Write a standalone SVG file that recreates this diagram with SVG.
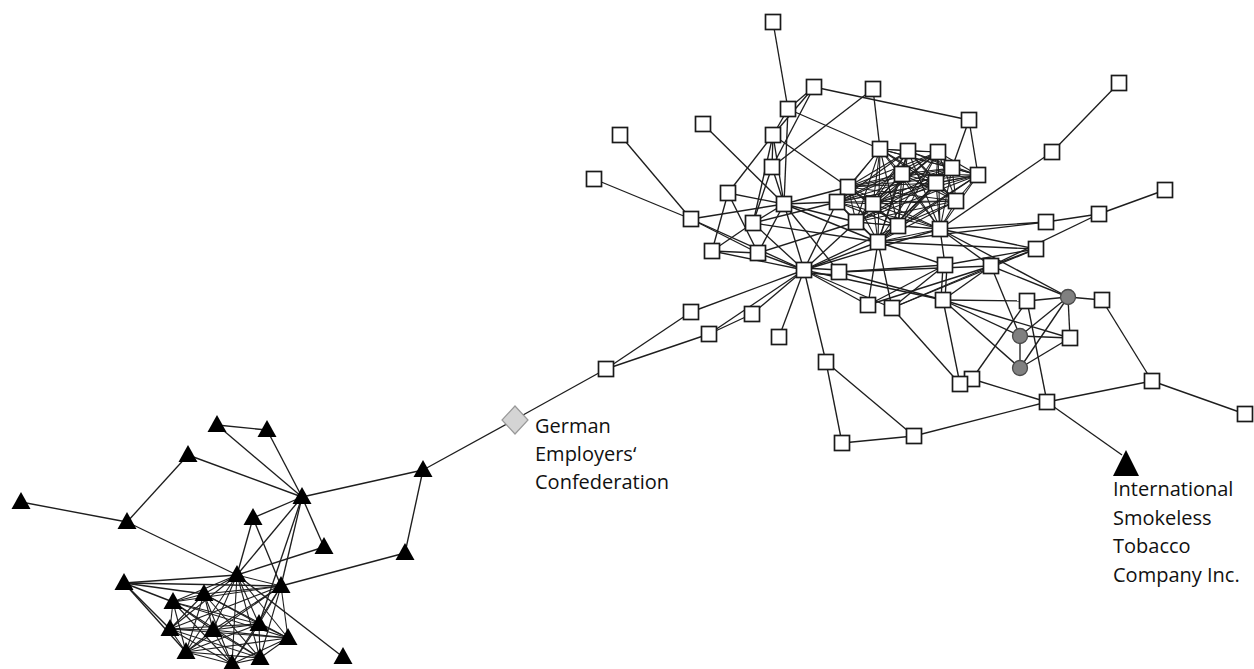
<svg xmlns="http://www.w3.org/2000/svg" xmlns:xlink="http://www.w3.org/1999/xlink" width="1254" height="669" viewBox="0 0 1254 669">
<style>
.e line{stroke:#1e1e1e;stroke-width:1.35;fill:none}
.c line{stroke:#1e1e1e;stroke-width:1.1}
.sq{fill:#fff;stroke:#1a1a1a;stroke-width:1.7}
.ci{fill:#808080;stroke:#4a4a4a;stroke-width:1.3}
.tr{fill:#000}
.lb{font-family:"Open Sans","Noto Sans",sans-serif;font-size:20px;fill:#111}
</style>
<defs>
<rect id="sq" class="sq" x="-7.5" y="-7.5" width="15" height="15"/>
<polygon id="tr" class="tr" points="0,-10 9.5,7 -9.5,7"/>
<circle id="ci" class="ci" r="7.5"/>
</defs>
<rect width="1254" height="669" fill="#fff"/>
<g id="connectors">
<g class="e">
<line x1="773" y1="22" x2="788" y2="109"/>
<line x1="814" y1="87" x2="788" y2="109"/>
<line x1="814" y1="87" x2="773" y2="135"/>
<line x1="814" y1="87" x2="772" y2="167"/>
<line x1="814" y1="87" x2="969" y2="120"/>
<line x1="873" y1="89" x2="880" y2="149"/>
<line x1="873" y1="89" x2="772" y2="167"/>
<line x1="788" y1="109" x2="880" y2="149"/>
<line x1="788" y1="109" x2="784" y2="204"/>
<line x1="788" y1="109" x2="773" y2="135"/>
<line x1="969" y1="120" x2="952" y2="168"/>
<line x1="969" y1="120" x2="978" y2="175"/>
<line x1="1119" y1="83" x2="1052" y2="152"/>
<line x1="1052" y1="152" x2="940" y2="229"/>
<line x1="1165" y1="190" x2="1099" y2="214"/>
<line x1="1099" y1="214" x2="1046" y2="222"/>
<line x1="1099" y1="214" x2="991" y2="266"/>
<line x1="620" y1="135" x2="691" y2="219"/>
<line x1="594" y1="179" x2="691" y2="219"/>
<line x1="703" y1="124" x2="784" y2="204"/>
<line x1="773" y1="135" x2="728" y2="193"/>
<line x1="773" y1="135" x2="772" y2="167"/>
<line x1="773" y1="135" x2="784" y2="204"/>
<line x1="773" y1="135" x2="753" y2="223"/>
<line x1="773" y1="135" x2="848" y2="187"/>
<line x1="772" y1="167" x2="784" y2="204"/>
<line x1="772" y1="167" x2="753" y2="223"/>
<line x1="691" y1="219" x2="784" y2="204"/>
<line x1="691" y1="219" x2="758" y2="253"/>
<line x1="691" y1="219" x2="804" y2="270"/>
<line x1="728" y1="193" x2="784" y2="204"/>
<line x1="728" y1="193" x2="712" y2="251"/>
<line x1="728" y1="193" x2="758" y2="253"/>
<line x1="753" y1="223" x2="784" y2="204"/>
<line x1="753" y1="223" x2="712" y2="251"/>
<line x1="753" y1="223" x2="804" y2="270"/>
<line x1="753" y1="223" x2="878" y2="242"/>
<line x1="753" y1="223" x2="837" y2="202"/>
<line x1="712" y1="251" x2="758" y2="253"/>
<line x1="712" y1="251" x2="804" y2="270"/>
<line x1="758" y1="253" x2="784" y2="204"/>
<line x1="758" y1="253" x2="804" y2="270"/>
<line x1="758" y1="253" x2="856" y2="222"/>
<line x1="784" y1="204" x2="804" y2="270"/>
<line x1="784" y1="204" x2="837" y2="202"/>
<line x1="784" y1="204" x2="856" y2="222"/>
<line x1="784" y1="204" x2="878" y2="242"/>
<line x1="784" y1="204" x2="839" y2="272"/>
<line x1="784" y1="204" x2="848" y2="187"/>
<line x1="804" y1="270" x2="837" y2="202"/>
<line x1="804" y1="270" x2="856" y2="222"/>
<line x1="804" y1="270" x2="878" y2="242"/>
<line x1="804" y1="270" x2="898" y2="226"/>
<line x1="804" y1="270" x2="940" y2="229"/>
<line x1="804" y1="268" x2="839" y2="270"/>
<line x1="804" y1="273" x2="839" y2="275"/>
<line x1="804" y1="270" x2="868" y2="305"/>
<line x1="804" y1="270" x2="892" y2="308"/>
<line x1="804" y1="270" x2="943" y2="300"/>
<line x1="804" y1="270" x2="826" y2="362"/>
<line x1="804" y1="270" x2="779" y2="337"/>
<line x1="804" y1="270" x2="691" y2="312"/>
<line x1="804" y1="270" x2="752" y2="314"/>
<line x1="804" y1="270" x2="709" y2="334"/>
<line x1="839" y1="272" x2="945" y2="265"/>
<line x1="839" y1="272" x2="943" y2="300"/>
<line x1="839" y1="272" x2="991" y2="266"/>
<line x1="878" y1="242" x2="868" y2="305"/>
<line x1="878" y1="242" x2="892" y2="308"/>
<line x1="878" y1="242" x2="1046" y2="222"/>
<line x1="878" y1="242" x2="1036" y2="249"/>
<line x1="878" y1="242" x2="945" y2="265"/>
<line x1="940" y1="229" x2="1046" y2="222"/>
<line x1="940" y1="229" x2="1036" y2="249"/>
<line x1="940" y1="229" x2="945" y2="265"/>
<line x1="940" y1="229" x2="991" y2="266"/>
<line x1="940" y1="229" x2="1068" y2="297"/>
<line x1="945" y1="265" x2="1036" y2="249"/>
<line x1="991" y1="266" x2="1036" y2="249"/>
<line x1="991" y1="266" x2="1068" y2="297"/>
<line x1="1068" y1="297" x2="1102" y2="300"/>
<line x1="943" y1="265" x2="941" y2="300"/>
<line x1="947" y1="265" x2="945" y2="300"/>
<line x1="945" y1="265" x2="868" y2="305"/>
<line x1="991" y1="266" x2="892" y2="308"/>
<line x1="991" y1="266" x2="943" y2="300"/>
<line x1="991" y1="266" x2="1020" y2="336"/>
<line x1="991" y1="266" x2="868" y2="305"/>
<line x1="892" y1="308" x2="945" y2="265"/>
<line x1="892" y1="308" x2="1036" y2="249"/>
<line x1="943" y1="300" x2="1027" y2="301"/>
<line x1="943" y1="300" x2="1020" y2="336"/>
<line x1="943" y1="300" x2="1070" y2="338"/>
<line x1="943" y1="300" x2="1020" y2="368"/>
<line x1="943" y1="300" x2="960" y2="384"/>
<line x1="892" y1="308" x2="960" y2="384"/>
<line x1="1027" y1="301" x2="1068" y2="297"/>
<line x1="1027" y1="301" x2="972" y2="379"/>
<line x1="1027" y1="301" x2="1047" y2="402"/>
<line x1="1068" y1="297" x2="1020" y2="336"/>
<line x1="1068" y1="297" x2="1020" y2="368"/>
<line x1="1068" y1="297" x2="1070" y2="338"/>
<line x1="1020" y1="336" x2="1020" y2="368"/>
<line x1="1020" y1="336" x2="1070" y2="338"/>
<line x1="1020" y1="368" x2="1070" y2="338"/>
<line x1="972" y1="379" x2="1047" y2="402"/>
<line x1="1047" y1="402" x2="1152" y2="381"/>
<line x1="1047" y1="402" x2="914" y2="436"/>
<line x1="826" y1="362" x2="842" y2="443"/>
<line x1="826" y1="362" x2="914" y2="436"/>
<line x1="842" y1="443" x2="914" y2="436"/>
<line x1="1047" y1="402" x2="1122" y2="455"/>
<line x1="1102" y1="300" x2="1152" y2="381"/>
<line x1="1152" y1="381" x2="1245" y2="414"/>
<line x1="606" y1="369" x2="514" y2="420"/>
<line x1="606" y1="369" x2="691" y2="312"/>
<line x1="606" y1="369" x2="709" y2="334"/>
<line x1="709" y1="334" x2="752" y2="314"/>
<line x1="514" y1="420" x2="423" y2="470"/>
</g>
<g class="c">
<line x1="880" y1="149" x2="908" y2="151"/><line x1="880" y1="149" x2="938" y2="152"/><line x1="880" y1="149" x2="952" y2="168"/><line x1="880" y1="149" x2="978" y2="175"/><line x1="880" y1="149" x2="902" y2="174"/><line x1="880" y1="149" x2="936" y2="183"/><line x1="880" y1="149" x2="848" y2="187"/><line x1="880" y1="149" x2="837" y2="202"/><line x1="880" y1="149" x2="873" y2="204"/><line x1="880" y1="149" x2="956" y2="201"/><line x1="880" y1="149" x2="856" y2="222"/><line x1="880" y1="149" x2="898" y2="226"/><line x1="880" y1="149" x2="940" y2="229"/><line x1="880" y1="149" x2="878" y2="242"/>
<line x1="908" y1="151" x2="938" y2="152"/><line x1="908" y1="151" x2="952" y2="168"/><line x1="908" y1="151" x2="978" y2="175"/><line x1="908" y1="151" x2="902" y2="174"/><line x1="908" y1="151" x2="936" y2="183"/><line x1="908" y1="151" x2="848" y2="187"/><line x1="908" y1="151" x2="837" y2="202"/><line x1="908" y1="151" x2="873" y2="204"/><line x1="908" y1="151" x2="956" y2="201"/><line x1="908" y1="151" x2="856" y2="222"/><line x1="908" y1="151" x2="898" y2="226"/><line x1="908" y1="151" x2="940" y2="229"/><line x1="908" y1="151" x2="878" y2="242"/>
<line x1="938" y1="152" x2="952" y2="168"/><line x1="938" y1="152" x2="978" y2="175"/><line x1="938" y1="152" x2="902" y2="174"/><line x1="938" y1="152" x2="936" y2="183"/><line x1="938" y1="152" x2="848" y2="187"/><line x1="938" y1="152" x2="837" y2="202"/><line x1="938" y1="152" x2="873" y2="204"/><line x1="938" y1="152" x2="956" y2="201"/><line x1="938" y1="152" x2="856" y2="222"/><line x1="938" y1="152" x2="898" y2="226"/><line x1="938" y1="152" x2="940" y2="229"/><line x1="938" y1="152" x2="878" y2="242"/>
<line x1="952" y1="168" x2="978" y2="175"/><line x1="952" y1="168" x2="902" y2="174"/><line x1="952" y1="168" x2="936" y2="183"/><line x1="952" y1="168" x2="848" y2="187"/><line x1="952" y1="168" x2="837" y2="202"/><line x1="952" y1="168" x2="873" y2="204"/><line x1="952" y1="168" x2="956" y2="201"/><line x1="952" y1="168" x2="856" y2="222"/><line x1="952" y1="168" x2="898" y2="226"/><line x1="952" y1="168" x2="940" y2="229"/><line x1="952" y1="168" x2="878" y2="242"/>
<line x1="978" y1="175" x2="902" y2="174"/><line x1="978" y1="175" x2="936" y2="183"/><line x1="978" y1="175" x2="848" y2="187"/><line x1="978" y1="175" x2="837" y2="202"/><line x1="978" y1="175" x2="873" y2="204"/><line x1="978" y1="175" x2="956" y2="201"/><line x1="978" y1="175" x2="856" y2="222"/><line x1="978" y1="175" x2="898" y2="226"/><line x1="978" y1="175" x2="940" y2="229"/><line x1="978" y1="175" x2="878" y2="242"/>
<line x1="902" y1="174" x2="936" y2="183"/><line x1="902" y1="174" x2="848" y2="187"/><line x1="902" y1="174" x2="837" y2="202"/><line x1="902" y1="174" x2="873" y2="204"/><line x1="902" y1="174" x2="956" y2="201"/><line x1="902" y1="174" x2="856" y2="222"/><line x1="902" y1="174" x2="898" y2="226"/><line x1="902" y1="174" x2="940" y2="229"/><line x1="902" y1="174" x2="878" y2="242"/>
<line x1="936" y1="183" x2="848" y2="187"/><line x1="936" y1="183" x2="837" y2="202"/><line x1="936" y1="183" x2="873" y2="204"/><line x1="936" y1="183" x2="956" y2="201"/><line x1="936" y1="183" x2="856" y2="222"/><line x1="936" y1="183" x2="898" y2="226"/><line x1="936" y1="183" x2="940" y2="229"/><line x1="936" y1="183" x2="878" y2="242"/>
<line x1="848" y1="187" x2="837" y2="202"/><line x1="848" y1="187" x2="873" y2="204"/><line x1="848" y1="187" x2="956" y2="201"/><line x1="848" y1="187" x2="856" y2="222"/><line x1="848" y1="187" x2="898" y2="226"/><line x1="848" y1="187" x2="940" y2="229"/><line x1="848" y1="187" x2="878" y2="242"/>
<line x1="837" y1="202" x2="873" y2="204"/><line x1="837" y1="202" x2="956" y2="201"/><line x1="837" y1="202" x2="856" y2="222"/><line x1="837" y1="202" x2="898" y2="226"/><line x1="837" y1="202" x2="940" y2="229"/><line x1="837" y1="202" x2="878" y2="242"/>
<line x1="873" y1="204" x2="956" y2="201"/><line x1="873" y1="204" x2="856" y2="222"/><line x1="873" y1="204" x2="898" y2="226"/><line x1="873" y1="204" x2="940" y2="229"/><line x1="873" y1="204" x2="878" y2="242"/>
<line x1="956" y1="201" x2="856" y2="222"/><line x1="956" y1="201" x2="898" y2="226"/><line x1="956" y1="201" x2="940" y2="229"/><line x1="956" y1="201" x2="878" y2="242"/>
<line x1="856" y1="222" x2="898" y2="226"/><line x1="856" y1="222" x2="940" y2="229"/><line x1="856" y1="222" x2="878" y2="242"/>
<line x1="898" y1="226" x2="940" y2="229"/><line x1="898" y1="226" x2="878" y2="242"/><line x1="940" y1="229" x2="878" y2="242"/>
</g>
<g class="e">
<line x1="217" y1="425" x2="267" y2="430"/>
<line x1="217" y1="425" x2="302" y2="497"/>
<line x1="267" y1="430" x2="302" y2="497"/>
<line x1="188" y1="455" x2="302" y2="497"/>
<line x1="188" y1="455" x2="127" y2="522"/>
<line x1="21" y1="502" x2="127" y2="522"/>
<line x1="127" y1="522" x2="237" y2="575"/>
<line x1="302" y1="497" x2="423" y2="470"/>
<line x1="302" y1="497" x2="253" y2="518"/>
<line x1="302" y1="497" x2="324" y2="547"/>
<line x1="302" y1="497" x2="237" y2="575"/>
<line x1="302" y1="497" x2="281" y2="586"/>
<line x1="302" y1="497" x2="259" y2="624"/>
<line x1="423" y1="470" x2="405" y2="553"/>
<line x1="405" y1="553" x2="281" y2="586"/>
<line x1="253" y1="518" x2="237" y2="575"/>
<line x1="253" y1="518" x2="281" y2="586"/>
<line x1="324" y1="547" x2="237" y2="575"/>
<line x1="237" y1="575" x2="343" y2="657"/>
<line x1="124" y1="583" x2="237" y2="575"/>
<line x1="124" y1="583" x2="281" y2="586"/>
<line x1="124" y1="583" x2="204" y2="594"/>
<line x1="124" y1="583" x2="173" y2="602"/>
<line x1="124" y1="583" x2="170" y2="629"/>
<line x1="124" y1="583" x2="186" y2="652"/>
</g>
<g class="c">
<line x1="237" y1="575" x2="281" y2="586"/><line x1="237" y1="575" x2="204" y2="594"/><line x1="237" y1="575" x2="173" y2="602"/><line x1="237" y1="575" x2="170" y2="629"/><line x1="237" y1="575" x2="213" y2="630"/><line x1="237" y1="575" x2="259" y2="624"/><line x1="237" y1="575" x2="288" y2="638"/><line x1="237" y1="575" x2="186" y2="652"/><line x1="237" y1="575" x2="260" y2="658"/><line x1="237" y1="575" x2="232" y2="664"/>
<line x1="281" y1="586" x2="204" y2="594"/><line x1="281" y1="586" x2="173" y2="602"/><line x1="281" y1="586" x2="170" y2="629"/><line x1="281" y1="586" x2="213" y2="630"/><line x1="281" y1="586" x2="259" y2="624"/><line x1="281" y1="586" x2="288" y2="638"/><line x1="281" y1="586" x2="186" y2="652"/><line x1="281" y1="586" x2="260" y2="658"/><line x1="281" y1="586" x2="232" y2="664"/>
<line x1="204" y1="594" x2="173" y2="602"/><line x1="204" y1="594" x2="170" y2="629"/><line x1="204" y1="594" x2="213" y2="630"/><line x1="204" y1="594" x2="259" y2="624"/><line x1="204" y1="594" x2="288" y2="638"/><line x1="204" y1="594" x2="186" y2="652"/><line x1="204" y1="594" x2="260" y2="658"/><line x1="204" y1="594" x2="232" y2="664"/>
<line x1="173" y1="602" x2="170" y2="629"/><line x1="173" y1="602" x2="213" y2="630"/><line x1="173" y1="602" x2="259" y2="624"/><line x1="173" y1="602" x2="288" y2="638"/><line x1="173" y1="602" x2="186" y2="652"/><line x1="173" y1="602" x2="260" y2="658"/><line x1="173" y1="602" x2="232" y2="664"/>
<line x1="170" y1="629" x2="213" y2="630"/><line x1="170" y1="629" x2="259" y2="624"/><line x1="170" y1="629" x2="288" y2="638"/><line x1="170" y1="629" x2="186" y2="652"/><line x1="170" y1="629" x2="260" y2="658"/><line x1="170" y1="629" x2="232" y2="664"/>
<line x1="213" y1="630" x2="259" y2="624"/><line x1="213" y1="630" x2="288" y2="638"/><line x1="213" y1="630" x2="186" y2="652"/><line x1="213" y1="630" x2="260" y2="658"/><line x1="213" y1="630" x2="232" y2="664"/>
<line x1="259" y1="624" x2="288" y2="638"/><line x1="259" y1="624" x2="186" y2="652"/><line x1="259" y1="624" x2="260" y2="658"/><line x1="259" y1="624" x2="232" y2="664"/>
<line x1="288" y1="638" x2="186" y2="652"/><line x1="288" y1="638" x2="260" y2="658"/><line x1="288" y1="638" x2="232" y2="664"/>
<line x1="186" y1="652" x2="260" y2="658"/><line x1="186" y1="652" x2="232" y2="664"/><line x1="260" y1="658" x2="232" y2="664"/>
</g>
</g>
<g id="nodes">
<g id="s1"><use xlink:href="#sq" x="773" y="22"/></g>
<g id="s2"><use xlink:href="#sq" x="814" y="87"/></g>
<g id="s3"><use xlink:href="#sq" x="873" y="89"/></g>
<g id="s4"><use xlink:href="#sq" x="788" y="109"/></g>
<g id="s5"><use xlink:href="#sq" x="969" y="120"/></g>
<g id="s6"><use xlink:href="#sq" x="1119" y="83"/></g>
<g id="s7"><use xlink:href="#sq" x="620" y="135"/></g>
<g id="s8"><use xlink:href="#sq" x="703" y="124"/></g>
<g id="s9"><use xlink:href="#sq" x="773" y="135"/></g>
<g id="s10"><use xlink:href="#sq" x="594" y="179"/></g>
<g id="s11"><use xlink:href="#sq" x="772" y="167"/></g>
<g id="s12"><use xlink:href="#sq" x="880" y="149"/></g>
<g id="s13"><use xlink:href="#sq" x="908" y="151"/></g>
<g id="s14"><use xlink:href="#sq" x="938" y="152"/></g>
<g id="s15"><use xlink:href="#sq" x="952" y="168"/></g>
<g id="s16"><use xlink:href="#sq" x="978" y="175"/></g>
<g id="s17"><use xlink:href="#sq" x="902" y="174"/></g>
<g id="s18"><use xlink:href="#sq" x="936" y="183"/></g>
<g id="s19"><use xlink:href="#sq" x="848" y="187"/></g>
<g id="s20"><use xlink:href="#sq" x="1052" y="152"/></g>
<g id="s21"><use xlink:href="#sq" x="1165" y="190"/></g>
<g id="s22"><use xlink:href="#sq" x="691" y="219"/></g>
<g id="s23"><use xlink:href="#sq" x="728" y="193"/></g>
<g id="s24"><use xlink:href="#sq" x="784" y="204"/></g>
<g id="s25"><use xlink:href="#sq" x="837" y="202"/></g>
<g id="s26"><use xlink:href="#sq" x="873" y="204"/></g>
<g id="s27"><use xlink:href="#sq" x="956" y="201"/></g>
<g id="s28"><use xlink:href="#sq" x="856" y="222"/></g>
<g id="s29"><use xlink:href="#sq" x="898" y="226"/></g>
<g id="s30"><use xlink:href="#sq" x="940" y="229"/></g>
<g id="s31"><use xlink:href="#sq" x="878" y="242"/></g>
<g id="s32"><use xlink:href="#sq" x="753" y="223"/></g>
<g id="s33"><use xlink:href="#sq" x="712" y="251"/></g>
<g id="s34"><use xlink:href="#sq" x="758" y="253"/></g>
<g id="s35"><use xlink:href="#sq" x="804" y="270"/></g>
<g id="s36"><use xlink:href="#sq" x="839" y="272"/></g>
<g id="s37"><use xlink:href="#sq" x="1046" y="222"/></g>
<g id="s38"><use xlink:href="#sq" x="1099" y="214"/></g>
<g id="s39"><use xlink:href="#sq" x="1036" y="249"/></g>
<g id="s40"><use xlink:href="#sq" x="945" y="265"/></g>
<g id="s41"><use xlink:href="#sq" x="991" y="266"/></g>
<g id="s42"><use xlink:href="#sq" x="868" y="305"/></g>
<g id="s43"><use xlink:href="#sq" x="892" y="308"/></g>
<g id="s44"><use xlink:href="#sq" x="943" y="300"/></g>
<g id="s45"><use xlink:href="#sq" x="1027" y="301"/></g>
<g id="s46"><use xlink:href="#sq" x="1102" y="300"/></g>
<g id="s47"><use xlink:href="#sq" x="1070" y="338"/></g>
<g id="s48"><use xlink:href="#sq" x="691" y="312"/></g>
<g id="s49"><use xlink:href="#sq" x="752" y="314"/></g>
<g id="s50"><use xlink:href="#sq" x="709" y="334"/></g>
<g id="s51"><use xlink:href="#sq" x="779" y="337"/></g>
<g id="s52"><use xlink:href="#sq" x="606" y="369"/></g>
<g id="s53"><use xlink:href="#sq" x="826" y="362"/></g>
<g id="s54"><use xlink:href="#sq" x="972" y="379"/></g>
<g id="s55"><use xlink:href="#sq" x="960" y="384"/></g>
<g id="s56"><use xlink:href="#sq" x="1047" y="402"/></g>
<g id="s57"><use xlink:href="#sq" x="1152" y="381"/></g>
<g id="s58"><use xlink:href="#sq" x="1245" y="414"/></g>
<g id="s59"><use xlink:href="#sq" x="842" y="443"/></g>
<g id="s60"><use xlink:href="#sq" x="914" y="436"/></g>
<g id="c1"><use xlink:href="#ci" x="1068" y="297"/></g>
<g id="c2"><use xlink:href="#ci" x="1020" y="336"/></g>
<g id="c3"><use xlink:href="#ci" x="1020" y="368"/></g>
<g id="german-employers"><polygon points="515,406 528,420 515,434 502,420" fill="#d4d4d4" stroke="#999" stroke-width="1.2"/>
<text class="lb" x="535" y="433">German</text><text class="lb" x="535" y="461">Employers‘</text><text class="lb" x="535" y="489">Confederation</text></g>
<g id="istc"><polygon points="1126,450 1139,476 1113,476" fill="#000"/>
<text class="lb" x="1113" y="496">International</text><text class="lb" x="1113" y="525">Smokeless</text><text class="lb" x="1113" y="553">Tobacco</text><text class="lb" x="1113" y="582">Company Inc.</text></g>
<g id="t1"><use xlink:href="#tr" x="217" y="425"/></g>
<g id="t2"><use xlink:href="#tr" x="267" y="430"/></g>
<g id="t3"><use xlink:href="#tr" x="188" y="455"/></g>
<g id="t4"><use xlink:href="#tr" x="21" y="502"/></g>
<g id="t5"><use xlink:href="#tr" x="127" y="522"/></g>
<g id="t6"><use xlink:href="#tr" x="302" y="497"/></g>
<g id="t7"><use xlink:href="#tr" x="423" y="470"/></g>
<g id="t8"><use xlink:href="#tr" x="253" y="518"/></g>
<g id="t9"><use xlink:href="#tr" x="324" y="547"/></g>
<g id="t10"><use xlink:href="#tr" x="405" y="553"/></g>
<g id="t11"><use xlink:href="#tr" x="237" y="575"/></g>
<g id="t12"><use xlink:href="#tr" x="124" y="583"/></g>
<g id="t13"><use xlink:href="#tr" x="281" y="586"/></g>
<g id="t14"><use xlink:href="#tr" x="204" y="594"/></g>
<g id="t15"><use xlink:href="#tr" x="173" y="602"/></g>
<g id="t16"><use xlink:href="#tr" x="170" y="629"/></g>
<g id="t17"><use xlink:href="#tr" x="213" y="630"/></g>
<g id="t18"><use xlink:href="#tr" x="259" y="624"/></g>
<g id="t19"><use xlink:href="#tr" x="288" y="638"/></g>
<g id="t20"><use xlink:href="#tr" x="186" y="652"/></g>
<g id="t21"><use xlink:href="#tr" x="260" y="658"/></g>
<g id="t22"><use xlink:href="#tr" x="232" y="664"/></g>
<g id="t23"><use xlink:href="#tr" x="343" y="657"/></g>
</g>
</svg>
